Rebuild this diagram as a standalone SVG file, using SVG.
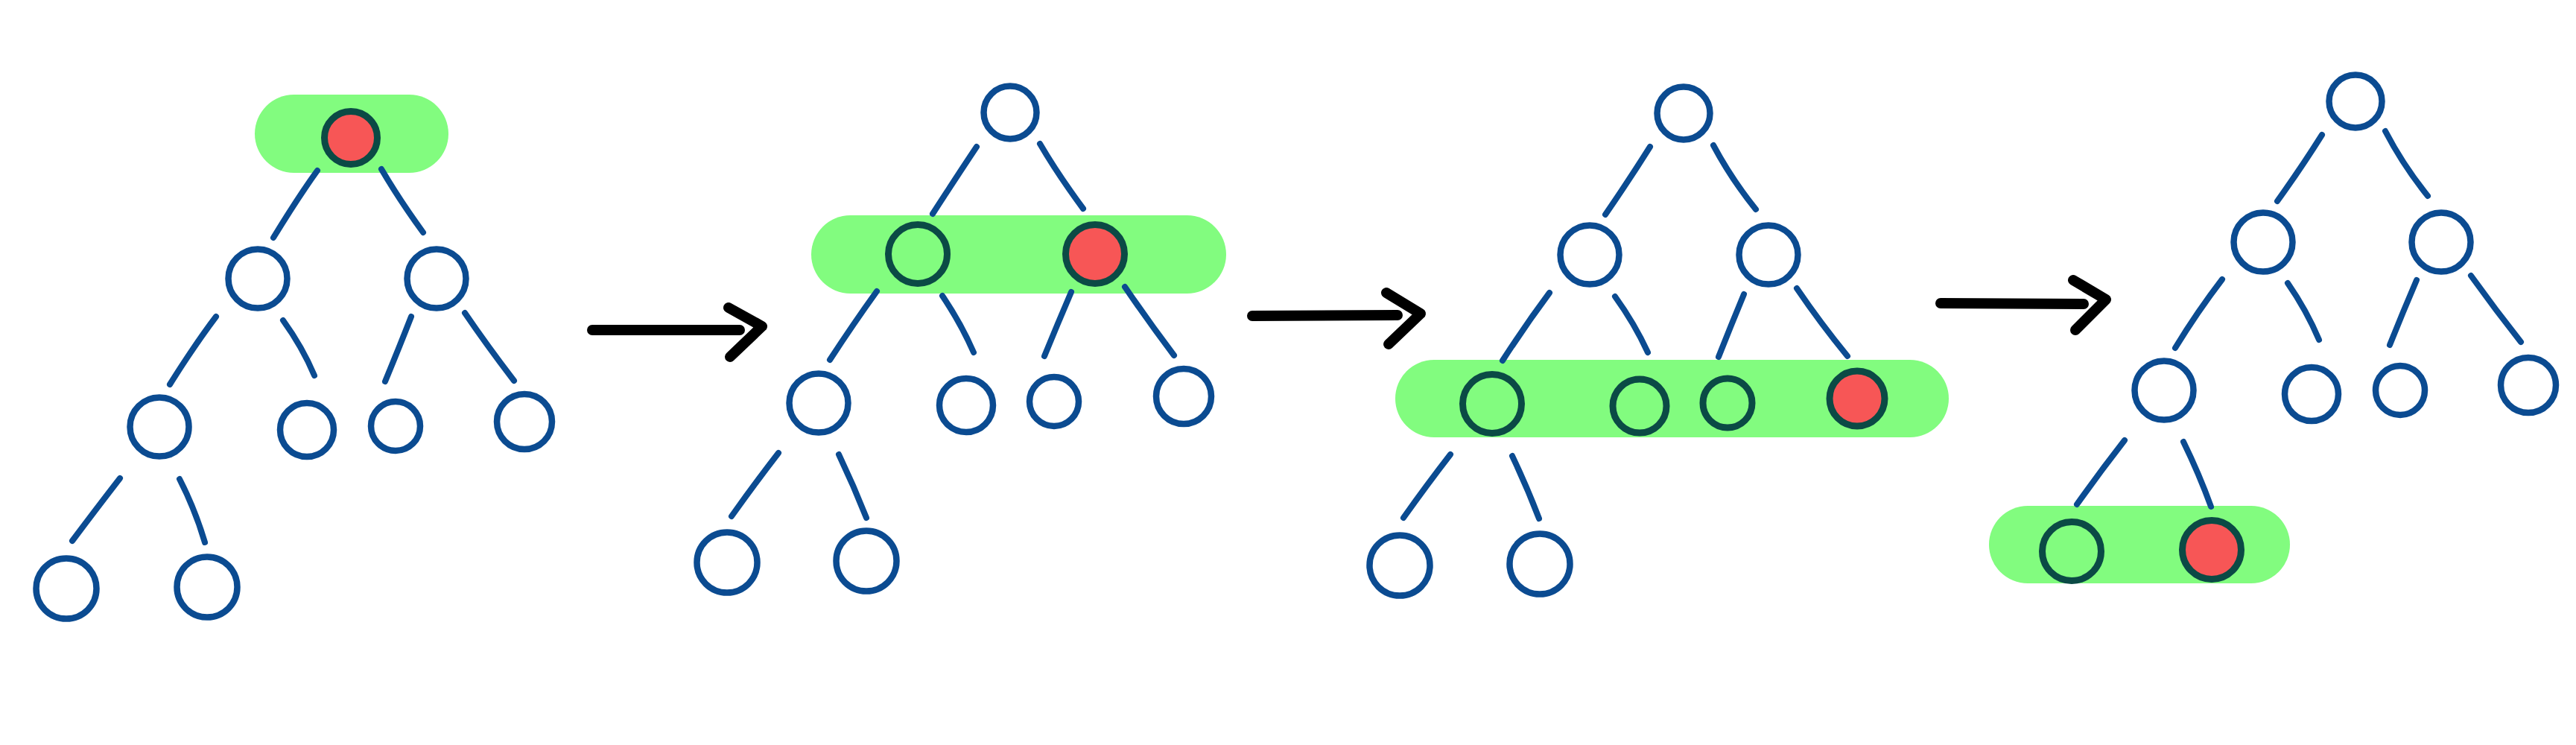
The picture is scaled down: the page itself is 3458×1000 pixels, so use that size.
<svg xmlns="http://www.w3.org/2000/svg" width="3458" height="1000" viewBox="0 0 3458 1000">
<style>
.pill{fill:#82fc7f}
.n{fill:none;stroke:#0b4b91;stroke-width:8.5}
.h{fill:none;stroke:#0b4a45;stroke-width:9}
.r{fill:#f75656;stroke:#0b4a45;stroke-width:9}
.e{fill:none;stroke:#0b4b91;stroke-width:8;stroke-linecap:round;stroke-linejoin:round}
.a{fill:none;stroke:#000;stroke-width:14;stroke-linecap:round;stroke-linejoin:round}
</style>
<rect width="3458" height="1000" fill="#fff"/>

<!-- highlight bands -->
<g id="highlights">
<rect class="pill" x="342" y="127" width="260" height="105" rx="52.5"/>
<rect class="pill" x="1089" y="289" width="557" height="105" rx="52.5"/>
<rect class="pill" x="1873" y="483" width="743" height="104" rx="52"/>
<rect class="pill" x="2670" y="679" width="404" height="104" rx="52"/>
</g>

<g id="connectors">
<!-- tree 1 -->
<path class="e" d="M426 229 Q402 262 367 319"/>
<path class="e" d="M512 227 Q536 268 568 312"/>
<path class="e" d="M290 425 Q262 462 228 516"/>
<path class="e" d="M380 430 Q406 466 422 504"/>
<path class="e" d="M552 425 Q536 466 517 512"/>
<path class="e" d="M624 420 Q654 464 690 511"/>
<path class="e" d="M161 642 Q130 682 97 726"/>
<path class="e" d="M241 643 Q262 684 275 728"/>
<!-- tree 2 -->
<path class="e" d="M1311 197 Q1285 236 1252 287"/>
<path class="e" d="M1396 193 Q1420 234 1454 280"/>
<path class="e" d="M1177 391 Q1146 434 1114 483"/>
<path class="e" d="M1265 397 Q1290 434 1307 473"/>
<path class="e" d="M1438 392 Q1420 434 1402 478"/>
<path class="e" d="M1510 385 Q1542 432 1576 477"/>
<path class="e" d="M1045 608 Q1014 648 982 693"/>
<path class="e" d="M1126 610 Q1146 652 1163 695"/>
<!-- tree 3 -->
<path class="e" d="M2215 197 Q2188 240 2155 288"/>
<path class="e" d="M2300 195 Q2324 240 2357 281"/>
<path class="e" d="M2080 393 Q2048 436 2017 484"/>
<path class="e" d="M2168 398 Q2194 434 2212 473"/>
<path class="e" d="M2341 395 Q2324 436 2307 479"/>
<path class="e" d="M2412 387 Q2444 434 2480 478"/>
<path class="e" d="M1947 610 Q1916 650 1884 695"/>
<path class="e" d="M2030 612 Q2050 654 2066 696"/>
<!-- tree 4 -->
<path class="e" d="M3117 181 Q3090 224 3057 270"/>
<path class="e" d="M3202 176 Q3226 222 3259 263"/>
<path class="e" d="M2983 375 Q2950 418 2920 467"/>
<path class="e" d="M3071 380 Q3096 416 3113 456"/>
<path class="e" d="M3244 376 Q3226 418 3208 463"/>
<path class="e" d="M3317 370 Q3350 416 3384 459"/>
<path class="e" d="M2852 591 Q2820 632 2788 677"/>
<path class="e" d="M2931 593 Q2952 636 2968 680"/>
<!-- arrows between stages -->
<path class="a" d="M795 443 L993 443"/>
<path class="a" d="M978 413 L1023 438 L980 479"/>
<path class="a" d="M1681 424 L1876 423"/>
<path class="a" d="M1861 393 L1907 421 L1864 462"/>
<path class="a" d="M2605 407 L2797 408"/>
<path class="a" d="M2783 376 L2827 402 L2786 443"/>
</g>

<!-- tree 1 -->
<g id="t1-root"><circle class="r" cx="471" cy="185" r="35.5"/></g>
<g id="t1-l1a"><circle class="n" cx="346" cy="374" r="39.5"/></g>
<g id="t1-l1b"><circle class="n" cx="586" cy="374" r="39.5"/></g>
<g id="t1-l2a"><circle class="n" cx="214" cy="573" r="39.5"/></g>
<g id="t1-l2b"><circle class="n" cx="412" cy="577" r="36"/></g>
<g id="t1-l2c"><circle class="n" cx="531" cy="572" r="33"/></g>
<g id="t1-l2d"><circle class="n" cx="704" cy="566" r="37"/></g>
<g id="t1-l3a"><circle class="n" cx="89" cy="790" r="40.5"/></g>
<g id="t1-l3b"><circle class="n" cx="278" cy="788" r="40.5"/></g>

<!-- tree 2 -->
<g id="t2-root"><circle class="n" cx="1356" cy="151" r="35.5"/></g>
<g id="t2-l1a"><circle class="h" cx="1232" cy="341" r="39.5"/></g>
<g id="t2-l1b"><circle class="r" cx="1470" cy="341" r="39.5"/></g>
<g id="t2-l2a"><circle class="n" cx="1099" cy="541" r="39.5"/></g>
<g id="t2-l2b"><circle class="n" cx="1297" cy="544" r="36"/></g>
<g id="t2-l2c"><circle class="n" cx="1415" cy="539" r="33"/></g>
<g id="t2-l2d"><circle class="n" cx="1589" cy="532" r="37"/></g>
<g id="t2-l3a"><circle class="n" cx="976" cy="755" r="40.5"/></g>
<g id="t2-l3b"><circle class="n" cx="1163" cy="753" r="40.5"/></g>

<!-- tree 3 -->
<g id="t3-root"><circle class="n" cx="2260" cy="152" r="35.5"/></g>
<g id="t3-l1a"><circle class="n" cx="2134" cy="342" r="39.5"/></g>
<g id="t3-l1b"><circle class="n" cx="2374" cy="342" r="39.5"/></g>
<g id="t3-l2a"><circle class="h" cx="2003" cy="542" r="39.5"/></g>
<g id="t3-l2b"><circle class="h" cx="2201" cy="545" r="36"/></g>
<g id="t3-l2c"><circle class="h" cx="2319" cy="541" r="33"/></g>
<g id="t3-l2d"><circle class="r" cx="2493" cy="535" r="37"/></g>
<g id="t3-l3a"><circle class="n" cx="1879" cy="759" r="40.5"/></g>
<g id="t3-l3b"><circle class="n" cx="2067" cy="757" r="40.5"/></g>

<!-- tree 4 -->
<g id="t4-root"><circle class="n" cx="3162" cy="136" r="35.5"/></g>
<g id="t4-l1a"><circle class="n" cx="3038" cy="325" r="39.5"/></g>
<g id="t4-l1b"><circle class="n" cx="3277" cy="325" r="39.5"/></g>
<g id="t4-l2a"><circle class="n" cx="2905" cy="524" r="39.5"/></g>
<g id="t4-l2b"><circle class="n" cx="3103" cy="529" r="36"/></g>
<g id="t4-l2c"><circle class="n" cx="3222" cy="524" r="33"/></g>
<g id="t4-l2d"><circle class="n" cx="3394" cy="517" r="37"/></g>
<g id="t4-l3a"><circle class="h" cx="2781" cy="740" r="39.5"/></g>
<g id="t4-l3b"><circle class="r" cx="2969" cy="738" r="39.5"/></g>
</svg>
